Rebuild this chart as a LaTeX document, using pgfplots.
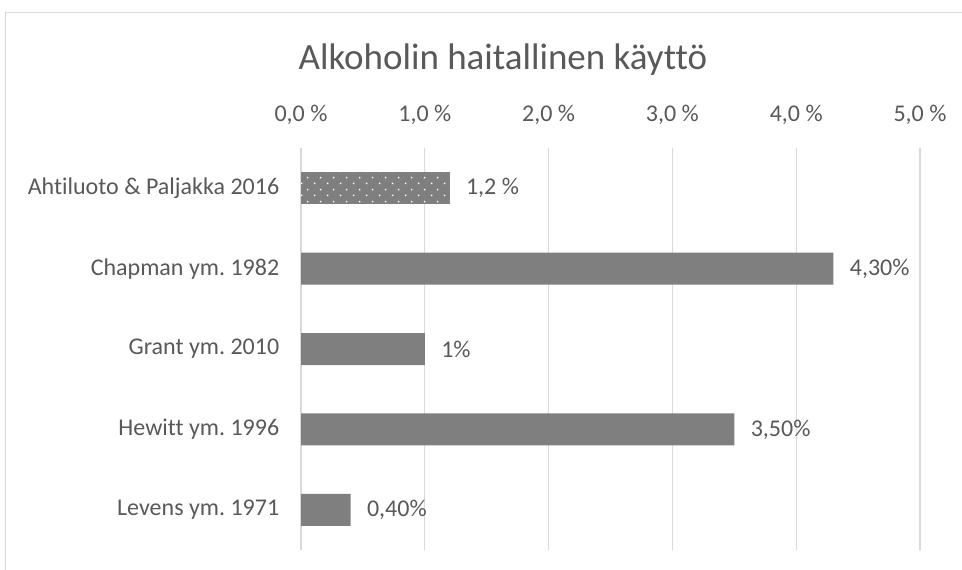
\documentclass[border=0pt]{standalone}
\usepackage{pgfplots}
\pgfplotsset{compat=1.18}
\usepackage{fontspec}
\setmainfont{Carlito}[Ligatures=NoCommon]
\usetikzlibrary{patterns.meta}
\definecolor{bargray}{HTML}{7F7F7F}
\definecolor{gridgray}{HTML}{D9D9D9}
\definecolor{txt}{HTML}{595959}
\frenchspacing

\tikzdeclarepattern{
  name=sparsedots,
  type=uncolored,
  bounding box={(0,0) and (13bp,12bp)},
  tile size={(13bp,12bp)},
  code={
    \pgfpathrectangle{\pgfqpoint{2bp}{2bp}}{\pgfqpoint{1.6bp}{1.6bp}}
    \pgfpathrectangle{\pgfqpoint{8.5bp}{8bp}}{\pgfqpoint{1.6bp}{1.6bp}}
    \pgfusepath{fill}
  }
}

\begin{document}
\begin{tikzpicture}
\useasboundingbox (0,0) rectangle (962bp,570bp);
\fill[white] (0,0) rectangle (962bp,570bp);
\draw[gridgray, line width=0.8bp] (5bp,0) -- (5bp,558bp) -- (962bp,558bp);

\begin{axis}[
  at={(301bp,20bp)}, anchor=south west,
  scale only axis, width=619bp, height=402bp,
  xmin=0, xmax=5, ymin=-0.5, ymax=4.5,
  y dir=reverse,
  xbar, bar width=32bp, bar shift=0pt,
  axis line style={draw=none},
  tick style={draw=none},
  xmajorgrids, grid style={gridgray, line width=1.2bp},
  xtick={0,1,2,3,4,5},
  xticklabels={{0,0 \%},{1,0 \%},{2,0 \%},{3,0 \%},{4,0 \%},{5,0 \%}},
  xticklabel pos=upper,
  xticklabel style={font=\fontsize{24bp}{28bp}\selectfont, text=txt, yshift=20bp},
  ytick={0,1,2,3,4},
  yticklabels={Ahtiluoto \& Paljakka 2016, Chapman ym. 1982, Grant ym. 2010, Hewitt ym. 1996, Levens ym. 1971},
  yticklabel style={font=\fontsize{24bp}{28bp}\selectfont, text=txt, xshift=-14bp},
  point meta=explicit symbolic,
  nodes near coords,
  nodes near coords style={font=\fontsize{24bp}{28bp}\selectfont, text=txt, anchor=west, xshift=13bp},
  clip=false,
]
\addplot[draw=none, fill=bargray, postaction={pattern={sparsedots}, pattern color=white}]
  coordinates {(1.2,0) [1,2 \%]};
\addplot[draw=none, fill=bargray]
  coordinates {(4.3,1) [4,30\%] (1.0,2) [1\%] (3.5,3) [3,50\%] (0.4,4) [0,40\%]};
\end{axis}

\node[font=\fontsize{37bp}{42bp}\selectfont, text=txt] at (503bp,510bp) {Alkoholin haitallinen käyttö};
\end{tikzpicture}
\end{document}
